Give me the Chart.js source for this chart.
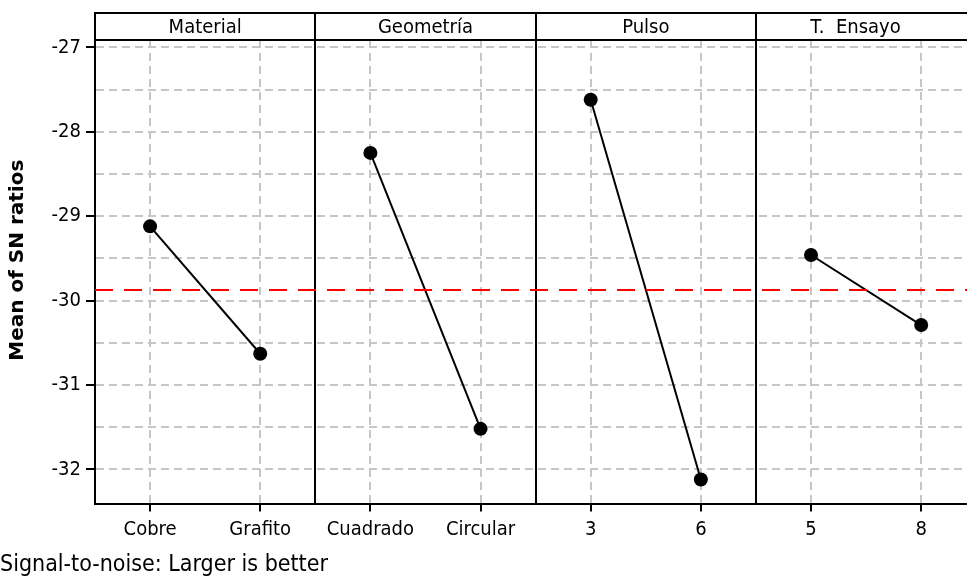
<!DOCTYPE html>
<html>
<head>
<meta charset="utf-8">
<script src="https://cdn.jsdelivr.net/npm/chart.js@4/dist/chart.umd.min.js"></script>
<style>
html,body{margin:0;padding:0;background:#fff;}
#wrap{width:967px;height:579px;}
</style>
</head>
<body>
<div id="wrap"><canvas id="c" width="967" height="579"></canvas></div>
<script>
// ---- data ----
const factorNames = ['Material', 'Geometría', 'Pulso', 'T.  Ensayo'];
const levelLabels = ['Cobre', 'Grafito', 'Cuadrado', 'Circular', '3', '6', '5', '8'];
const materialSN = [-29.12, -30.63];
const geometriaSN = [-28.25, -31.52];
const pulsoSN = [-27.62, -32.12];
const ensayoSN = [-29.46, -30.29];
const overallMean = -29.875;
const yTickValues = [-32, -31.5, -31, -30.5, -30, -29.5, -29, -28.5, -28, -27.5, -27];
const yTickLabels = ['-32', '', '-31', '', '-30', '', '-29', '', '-28', '', '-27'];
const yTitle = 'Mean of SN ratios';
const footnote = 'Signal-to-noise: Larger is better';

// ---- styling ----
const FONT = "'DejaVu Sans Condensed', 'DejaVu Sans', sans-serif";
const GRID = '#c6c6c6';
const HEADER_H = 27;

const panelSeries = [materialSN, geometriaSN, pulsoSN, ensayoSN];

const datasets = [{
  label: 'mean',
  data: [{x: 0, y: overallMean}, {x: 2 * factorNames.length, y: overallMean}],
  borderColor: '#ff0000',
  borderWidth: 2,
  borderDash: [18, 11],
  pointRadius: 0
}].concat(panelSeries.map((vals, p) => ({
  label: factorNames[p],
  data: vals.map((v, i) => ({x: 2 * p + 0.5 + i, y: v})),
  borderColor: '#000',
  backgroundColor: '#000',
  borderWidth: 2,
  pointRadius: 7,
  pointBackgroundColor: '#000',
  pointBorderWidth: 0,
  tension: 0
})));

const panelPlugin = {
  id: 'panels',
  beforeDatasetsDraw(chart) {
    const {ctx, chartArea: a, scales: {x}} = chart;
    const top = a.top - HEADER_H;
    ctx.save();
    ctx.strokeStyle = '#000';
    ctx.lineWidth = 2;
    ctx.beginPath();
    ctx.moveTo(a.left - 1, top); ctx.lineTo(a.right, top);
    ctx.moveTo(a.left - 1, a.top); ctx.lineTo(a.right, a.top);
    for (let k = 0; k <= factorNames.length; k++) {
      const px = Math.round(x.getPixelForValue(2 * k));
      if (px > a.right + 1) continue;
      ctx.moveTo(px, top);
      ctx.lineTo(px, k === 0 ? a.top : a.bottom);
    }
    ctx.stroke();
    ctx.fillStyle = '#000';
    ctx.font = '20px ' + FONT;
    ctx.textAlign = 'center';
    ctx.textBaseline = 'middle';
    factorNames.forEach((n, k) => {
      const l = x.getPixelForValue(2 * k);
      const r = Math.min(x.getPixelForValue(2 * k + 2), a.right);
      ctx.fillText(n, (l + r) / 2 - (k === factorNames.length - 1 ? 6 : 0), (top + a.top) / 2 + 1);
    });
    // y-axis title
    ctx.save();
    ctx.translate(18, (a.top + a.bottom) / 2 - 12);
    ctx.rotate(-Math.PI / 2);
    ctx.font = "bold 20px 'DejaVu Sans', sans-serif";
    ctx.fillText(yTitle, 0, 0);
    ctx.restore();
    ctx.restore();
  }
};

new Chart(document.getElementById('c'), {
  type: 'line',
  data: {datasets},
  options: {
    responsive: false,
    animation: false,
    devicePixelRatio: 1,
    layout: {autoPadding: false, padding: {top: 40, left: 0, right: 0, bottom: 0}},
    plugins: {
      legend: {display: false},
      tooltip: {enabled: false},
      title: {
        display: true,
        text: footnote,
        position: 'bottom',
        align: 'start',
        color: '#000',
        font: {family: FONT, size: 23, weight: 'normal'},
        padding: {top: 9, bottom: 0}
      }
    },
    scales: {
      x: {
        type: 'linear',
        min: 0,
        max: 7.916,
        afterBuildTicks: s => {
          s.ticks = levelLabels.map((_, i) => ({value: Math.floor(i / 2) * 2 + 0.5 + (i % 2)}));
        },
        afterFit: s => { s.height = 38; },
        ticks: {
          autoSkip: false, maxRotation: 0, minRotation: 0, padding: 6, color: '#000',
          font: {family: FONT, size: 20},
          callback: (v, i) => levelLabels[i]
        },
        grid: {color: GRID, lineWidth: 2, tickColor: '#000', tickWidth: 2, tickLength: 7, tickBorderDash: []},
        border: {display: true, color: '#000', width: 2, dash: [8, 5]}
      },
      y: {
        type: 'linear',
        min: -32.415,
        max: -26.912,
        afterBuildTicks: s => { s.ticks = yTickValues.map(v => ({value: v})); },
        afterFit: s => { s.width = 95; },
        ticks: {
          padding: 5, color: '#000',
          font: {family: FONT, size: 20},
          callback: (v, i) => yTickLabels[i]
        },
        grid: {
          color: GRID, lineWidth: 2,
          tickColor: c => (yTickLabels[c.index] ? '#000' : 'rgba(0,0,0,0)'),
          tickWidth: 2, tickLength: 9, tickBorderDash: []
        },
        border: {display: true, color: '#000', width: 2, dash: [8, 5]},
        title: {display: false}
      }
    }
  },
  plugins: [panelPlugin]
});
</script>
</body>
</html>
